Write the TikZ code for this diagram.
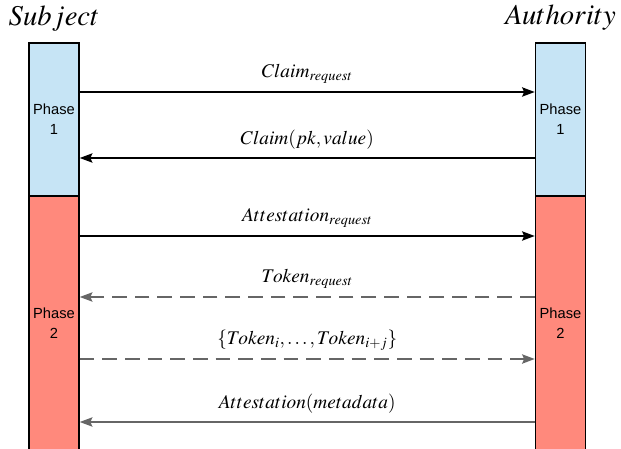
\documentclass[tikz,border=0pt]{standalone}
\usepackage{mathptmx}
\usepackage[no-math]{fontspec}
\newfontfamily\phasefont{Liberation Sans}
\usetikzlibrary{arrows.meta}

\definecolor{phaseblue}{RGB}{198,228,245}
\definecolor{phasered}{RGB}{255,137,124}
\definecolor{msggray}{RGB}{102,102,102}

\tikzset{
  phase/.style={draw=black, line width=1.1pt, minimum width=50*0.75pt, inner sep=0pt,
    align=center, font=\phasefont\fontsize{11}{15}\selectfont},
  actor/.style={font=\fontsize{21.5}{24}\selectfont},
  msg/.style={line width=1.1pt, -{Stealth[length=9.5pt,width=7pt,inset=1.5pt]}},
  reply/.style={msg, draw=msggray},
  lbl/.style={font=\fontsize{14.5}{16}\selectfont, above=2.5pt}
}

\begin{document}
\begin{tikzpicture}[x=0.75pt,y=-0.75pt]
  %%%%% START %%%%%
  \useasboundingbox (0,0) rectangle (621,449);
  \clip (0,0) rectangle (621,449);
  \def\xs{54}
  \def\xa{560.5}
  \def\ytop{43}
  \def\ymid{196}
  \def\ybot{450}

  % lifelines
  \node[phase, fill=phaseblue, minimum height=(\ymid-\ytop)*0.75pt] (subjP1) at (\xs,{(\ytop+\ymid)/2}) {Phase\\1};
  \node[phase, fill=phasered, minimum height=(\ybot-\ymid)*0.75pt] (subjP2) at (\xs,{(\ymid+\ybot)/2}) {Phase\\2};
  \node[phase, fill=phaseblue, minimum height=(\ymid-\ytop)*0.75pt] (authP1) at (\xa,{(\ytop+\ymid)/2}) {Phase\\1};
  \node[phase, fill=phasered, minimum height=(\ybot-\ymid)*0.75pt] (authP2) at (\xa,{(\ymid+\ybot)/2}) {Phase\\2};

  \node[actor] (subj) at (\xs,19) {$Subject$};
  \node[actor] (auth) at (\xa,18) {$Authority$};

  % message rows
  \coordinate (m1) at (0,92);
  \coordinate (m2) at (0,158);
  \coordinate (m3) at (0,236);
  \coordinate (m4) at (0,297);
  \coordinate (m5) at (0,359);
  \coordinate (m6) at (0,422);

  \draw[msg] (subjP1.east |- m1) -- node[lbl] {$Claim_{request}$} (authP1.west |- m1);
  \draw[msg] (authP1.west |- m2) -- node[lbl] {$Claim(pk,value)$} (subjP1.east |- m2);
  \draw[msg] (subjP2.east |- m3) -- node[lbl] {$Attestation_{request}$} (authP2.west |- m3);
  \draw[reply, dash pattern=on 11pt off 6pt] (authP2.west |- m4) -- node[lbl] {$Token_{request}$} (subjP2.east |- m4);
  \draw[reply, dash pattern=on 11pt off 6pt] (subjP2.east |- m5) -- node[lbl] {$\{Token_i,\ldots,Token_{i+j}\}$} (authP2.west |- m5);
  \draw[reply] (authP2.west |- m6) -- node[lbl] {$Attestation(metadata)$} (subjP2.east |- m6);
  %%%%% END %%%%%
\end{tikzpicture}
\end{document}
